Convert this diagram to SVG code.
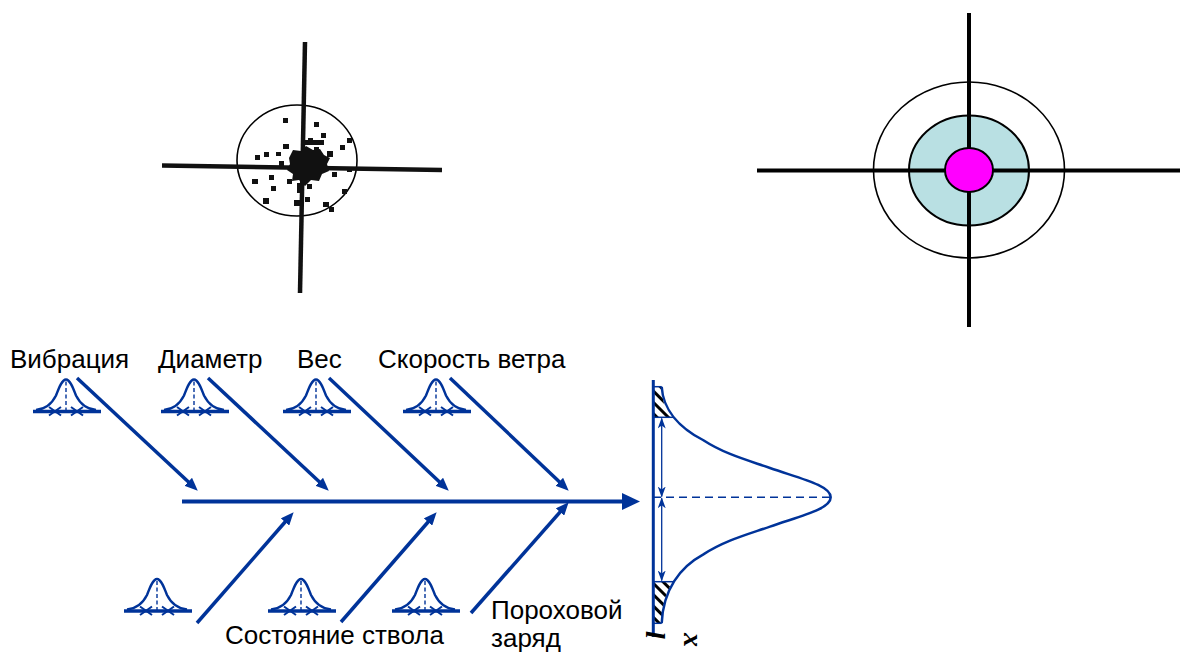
<svg xmlns="http://www.w3.org/2000/svg" width="1182" height="652" viewBox="0 0 1182 652">
  <style>
    .lbl { font-family: "Liberation Sans", Arial, sans-serif; font-size: 26px; fill: #000; }
    .axl { font-family: "Liberation Serif", "Times New Roman", serif; font-size: 28px; font-style: italic; font-weight: bold; fill: #000; }
    .blue { stroke: #003399; fill: none; }
    .arrow { stroke: #003399; stroke-width: 3.5; fill: none; marker-end: url(#head); }
    .cross { stroke: #111; stroke-width: 4.5; }
    .thin { stroke: #000; stroke-width: 1.6; }
  </style>
  <defs>
    <marker id="head" markerUnits="userSpaceOnUse" viewBox="0 0 13 11" refX="4" refY="5.5" markerWidth="13" markerHeight="11" orient="auto">
      <path d="M0,0 L13,5.5 L0,11 z" fill="#003399"/>
    </marker>
    <marker id="bighead" markerUnits="userSpaceOnUse" viewBox="0 0 18 17" refX="3" refY="8.5" markerWidth="18" markerHeight="17" orient="auto">
      <path d="M0,0 L18,8.5 L0,17 z" fill="#003399"/>
    </marker>
    <marker id="dim" markerUnits="userSpaceOnUse" viewBox="0 0 11 8" refX="10" refY="4" markerWidth="11" markerHeight="8" orient="auto-start-reverse">
      <path d="M0,0 L11,4 L0,8 L3,4 z" fill="#003399"/>
    </marker>
    <pattern id="hatch" patternUnits="userSpaceOnUse" width="8" height="8" patternTransform="rotate(-45)">
      <rect x="0" y="0" width="8" height="8" fill="#fff"/>
      <line x1="0" y1="0" x2="0" y2="8" stroke="#000" stroke-width="6"/>
    </pattern>
    <g id="bell">
      <line x1="-33" y1="0" x2="35" y2="0" stroke="#003399" stroke-width="3.5"/>
      <path d="M-30,-1.5 C-20,-2.5 -14,-8 -10,-16 C-7,-24 -4,-32 0,-32 C4,-32 7,-24 10,-16 C14,-8 20,-2.5 30,-1.5" stroke="#003399" stroke-width="2.4" fill="none"/>
      <line x1="0" y1="-30" x2="0" y2="0" stroke="#003399" stroke-width="1.4" stroke-dasharray="4 2.5"/>
      <path d="M-17,-4.5 L-5,4 M-17,4 L-5,-4.5 M5,-4.5 L17,4 M5,4 L17,-4.5" stroke="#003399" stroke-width="2" fill="none"/>
    </g>
  </defs>

  <rect width="1182" height="652" fill="#fff"/>

  <!-- Scatter target (top left) -->
  <g id="target-scatter">
    <ellipse cx="297" cy="160.5" rx="60" ry="55.5" class="thin" fill="none"/>
    <line x1="305" y1="42" x2="300" y2="293" class="cross"/>
    <line x1="162" y1="165.5" x2="442" y2="170" class="cross"/>
    <path d="M289,158 L293,150 L301,151 L306,146 L313,150 L320,149 L324,155 L330,158 L327,164 L329,171 L322,174 L319,181 L311,180 L305,186 L299,180 L292,181 L293,174 L287,170 L290,164 z" fill="#111"/>
    <g fill="#111">
      <rect x="305" y="140" width="19" height="5"/>
      <rect x="297" y="183" width="6" height="10"/>
      <rect x="283" y="118" width="5" height="5"/>
      <rect x="314" y="122" width="5" height="5"/>
      <rect x="321" y="133" width="5" height="5"/>
      <rect x="340" y="145" width="5" height="5"/>
      <rect x="347" y="138" width="5" height="5"/>
      <rect x="264" y="152" width="5" height="5"/>
      <rect x="255" y="155" width="5" height="5"/>
      <rect x="283" y="144" width="6" height="5"/>
      <rect x="308" y="138" width="5" height="5"/>
      <rect x="327" y="151" width="6" height="6"/>
      <rect x="252" y="179" width="6" height="5"/>
      <rect x="269" y="175" width="5" height="5"/>
      <rect x="271" y="186" width="5" height="5"/>
      <rect x="287" y="179" width="5" height="5"/>
      <rect x="307" y="184" width="5" height="5"/>
      <rect x="332" y="172" width="5" height="5"/>
      <rect x="347" y="167" width="5" height="5"/>
      <rect x="342" y="189" width="5" height="5"/>
      <rect x="263" y="198" width="6" height="6"/>
      <rect x="294" y="200" width="6" height="6"/>
      <rect x="305" y="197" width="5" height="5"/>
      <rect x="323" y="202" width="6" height="5"/>
      <rect x="329" y="207" width="5" height="5"/>
      <rect x="279" y="161" width="5" height="5"/>
      <rect x="276" y="152" width="5" height="4"/>
      <rect x="314" y="147" width="5" height="5"/>
    </g>
  </g>

  <!-- Ring target (top right) -->
  <g id="target-rings">
    <ellipse cx="969" cy="170" rx="95.5" ry="88" fill="#fff" stroke="#000" stroke-width="1.6"/>
    <ellipse cx="969" cy="170.5" rx="60" ry="55" fill="#B9E0E3" stroke="#000" stroke-width="2"/>
    <line x1="969" y1="13" x2="969" y2="327" stroke="#000" stroke-width="4"/>
    <line x1="757" y1="170.5" x2="1180" y2="170.5" stroke="#000" stroke-width="4"/>
    <ellipse cx="969" cy="170" rx="24" ry="22" fill="#FF00FF" stroke="#000" stroke-width="2"/>
  </g>

  <!-- Causes -->
  <g id="cause-vibration">
    <text class="lbl" x="10" y="368">Вибрация</text>
    <use href="#bell" x="66" y="411.5"/>
  </g>
  <g id="cause-diameter">
    <text class="lbl" x="158" y="368">Диаметр</text>
    <use href="#bell" x="194" y="411.5"/>
  </g>
  <g id="cause-weight">
    <text class="lbl" x="297" y="368">Вес</text>
    <use href="#bell" x="316" y="411.5"/>
  </g>
  <g id="cause-wind">
    <text class="lbl" x="378" y="368">Скорость ветра</text>
    <use href="#bell" x="436" y="411.5"/>
  </g>
  <g id="cause-unnamed">
    <use href="#bell" x="157" y="611"/>
  </g>
  <g id="cause-barrel">
    <text class="lbl" x="225" y="644">Состояние ствола</text>
    <use href="#bell" x="301" y="611"/>
  </g>
  <g id="cause-charge">
    <use href="#bell" x="425" y="611"/>
    <text class="lbl" x="491" y="619">Пороховой</text>
    <text class="lbl" x="491" y="647">заряд</text>
  </g>

  <!-- Effect: distribution -->
  <g id="effect-distribution">
    <path d="M653,386.7 L661.7,386.7 C663,410 668,412 673.3,417.3 L653,417.3 z" fill="url(#hatch)"/>
    <path d="M653,581.7 L673.3,581.7 C667,590 663,600 661.7,623.3 L653,623.3 z" fill="url(#hatch)"/>
    <path d="M661.7,386.7 C663,410 680,428 703,440 C725,454.3 748,460.3 770,468 C800,478.5 830.7,485.3 830.7,497.3 C830.7,509.3 800,516.1 770,526.6 C748,534.3 725,540.3 703,554.6 C680,567 663,590 661.7,623.3" class="blue" stroke-width="2.5"/>
    <line x1="653" y1="386.7" x2="661.7" y2="386.7" class="blue" stroke-width="1.5"/>
    <line x1="653" y1="417.3" x2="674" y2="417.3" class="blue" stroke-width="1.5"/>
    <line x1="653" y1="581.7" x2="674" y2="581.7" class="blue" stroke-width="1.5"/>
    <line x1="653" y1="623.3" x2="661.7" y2="623.3" class="blue" stroke-width="1.5"/>
    <line x1="653" y1="497.3" x2="830" y2="497.3" class="blue" stroke-width="1.5" stroke-dasharray="8 5"/>
    <line x1="661.7" y1="418.5" x2="661.7" y2="496.5" class="blue" stroke-width="1.3" marker-start="url(#dim)" marker-end="url(#dim)"/>
    <line x1="661.7" y1="498.3" x2="661.7" y2="580.5" class="blue" stroke-width="1.3" marker-start="url(#dim)" marker-end="url(#dim)"/>
    <line x1="653.3" y1="380" x2="653.3" y2="637" class="blue" stroke-width="3"/>
    <text class="axl" transform="translate(646,631) rotate(90)">l</text>
    <text class="axl" transform="translate(684,633) rotate(90)">x</text>
  </g>

  <!-- Connectors -->
  <g id="connectors">
    <line x1="182" y1="501.5" x2="625" y2="501.5" stroke="#003399" stroke-width="4" marker-end="url(#bighead)"/>
    <line x1="77" y1="378" x2="191.2" y2="484.5" class="arrow"/>
    <line x1="208" y1="378" x2="322.2" y2="484.5" class="arrow"/>
    <line x1="329" y1="378" x2="442.2" y2="484.5" class="arrow"/>
    <line x1="450" y1="378" x2="562.2" y2="484.5" class="arrow"/>
    <line x1="197" y1="623" x2="287.7" y2="519" class="arrow"/>
    <line x1="341" y1="622" x2="430.7" y2="519" class="arrow"/>
    <line x1="471" y1="613" x2="562.7" y2="509" class="arrow"/>
  </g>
</svg>
